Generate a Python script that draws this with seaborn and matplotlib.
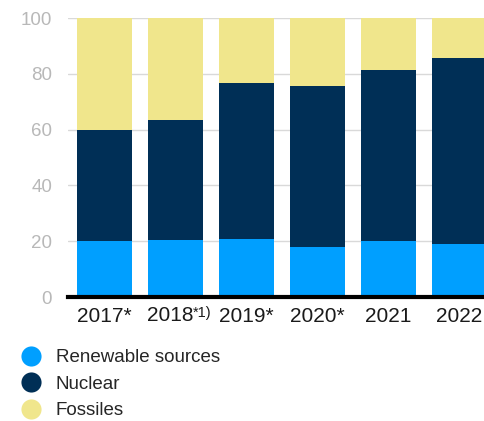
import matplotlib
matplotlib.use("Agg")
import matplotlib.pyplot as plt
from matplotlib.lines import Line2D
import seaborn as sns
import pandas as pd
import numpy as np

years = ["2017*", "2018", "2019*", "2020*", "2021", "2022"]
footnotes = {"2018": "*1)"}
renewable = [20.1, 20.4, 20.8, 17.9, 20.1, 19.0]
nuclear = [39.9, 43.0, 55.9, 57.7, 61.3, 66.7]
fossiles = [40.0, 36.6, 23.3, 24.4, 18.6, 14.3]

series_names = ["Renewable sources", "Nuclear", "Fossiles"]
colors = ["#009fff", "#002f56", "#f0e68c"]

sns.set_theme(style="white")
plt.rcParams["font.family"] = ["Liberation Sans", "DejaVu Sans"]

df = pd.DataFrame({"year": years, "Renewable sources": renewable,
                   "Nuclear": nuclear, "Fossiles": fossiles})

fig = plt.figure(figsize=(4.84, 4.21), dpi=100)
ax = fig.add_axes([0.1405, 0.2945, 0.8595, 0.6625])

# draw cumulative totals from the top layer down so each layer sits on the one below
cum = np.zeros(len(years))
layers = []
for name in series_names:
    cum = cum + df[name].to_numpy()
    layers.append(cum.copy())
for name, top, col in reversed(list(zip(series_names, layers, colors))):
    sns.barplot(x=df["year"], y=top, color=col, width=0.775, ax=ax,
                saturation=1, linewidth=0, zorder=2)

ax.set_ylim(0, 100)
ax.set_xlim(-0.514, 5.345)
ax.set_yticks([0, 20, 40, 60, 80, 100])
ax.yaxis.grid(True, color="#d9d9d9", linewidth=1, zorder=0)
ax.set_axisbelow(True)
for s in ["top", "right", "left"]:
    ax.spines[s].set_visible(False)
ax.spines["bottom"].set_color("black")
ax.spines["bottom"].set_linewidth(3)
ax.spines["bottom"].set_zorder(5)
ax.set_xlabel("")
ax.set_ylabel("")
xpad = 7
ax.tick_params(axis="y", length=0, pad=11.5, labelsize=13.5, labelcolor="#b8b8b8")
ax.tick_params(axis="x", length=0, pad=xpad, labelsize=15, labelcolor="#1a1a1a")

# years carrying a footnote get a small raised marker after the number
ax.set_xticks(range(len(years)))
ax.set_xticklabels(["" if y in footnotes else y for y in years])
for i, y in enumerate(years):
    note = footnotes.get(y)
    if note:
        base = ax.annotate(y, xy=(i, 0), xycoords=ax.get_xaxis_transform(),
                           xytext=(-4, -xpad + 0.5), textcoords="offset points",
                           ha="center", va="top", fontsize=15, color="#1a1a1a",
                           annotation_clip=False)
        ax.annotate(note, xy=(1, 1.02), xycoords=base, ha="left", va="top",
                    fontsize=10.5, color="#1a1a1a", annotation_clip=False)

handles = [Line2D([], [], linestyle="none", marker="o", markersize=14.5,
                  markerfacecolor=c, markeredgewidth=0) for c in colors]
fig.legend(handles, series_names, loc="upper left", bbox_to_anchor=(0.04, 0.171),
           frameon=False, fontsize=13.5, handletextpad=0.75, labelspacing=0.5,
           borderaxespad=0, borderpad=0, handlelength=1.2)

fig.savefig("out.png", dpi=100)
